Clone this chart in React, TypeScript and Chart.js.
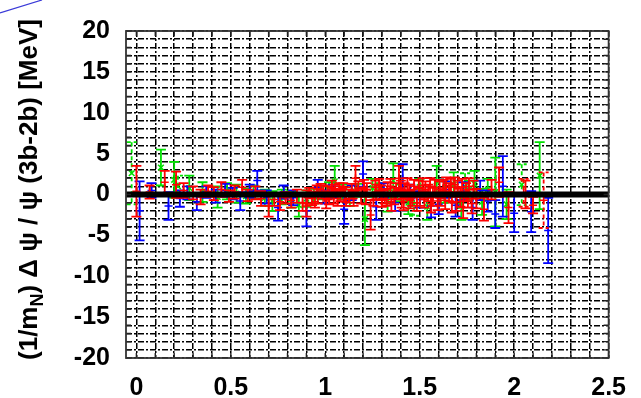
import { useEffect, useRef } from 'react';
import { Chart, registerables } from 'chart.js';
Chart.register(...registerables);

const xMin = -0.055;
const xMax = 2.5;
const yMin = -20;
const yMax = 20;
const xLabelTicks = [0, 0.5, 1, 1.5, 2, 2.5];
const yLabelTicks = [-20, -15, -10, -5, 0, 5, 10, 15, 20];

const greenX = [0.13,0.2,0.28,0.35,0.43,0.48,0.53,0.58,0.62,0.68,0.72,0.77,0.82,0.86,0.9,0.94,0.98,1.02,1.05,1.09,1.13,1.17,1.21,1.25,1.29,1.33,1.36,1.4,1.44,1.5,1.54,1.59,1.63,1.68,1.72,1.76,1.79,1.83,1.86,1.9,1.96,2.135];
const greenY = [3.3,1.8,0.8,0.3,-0.3,0.4,0.1,-0.2,0.3,-0.4,-0.8,-0.3,-0.6,-1.3,-0.5,-0.2,0.2,0.5,1.6,0.3,-0.4,0.5,-3.0,0.8,0.4,-0.8,1.7,0.2,-1.0,0.9,-1.5,1.6,0.3,1.2,-1.4,0.5,1.3,-0.9,0.6,0.3,-1.2,2.3];
const greenErr = [2.2,2.2,1.5,1.2,1.3,1.0,1.1,0.9,0.8,1.0,1.2,0.9,1.0,1.4,1.0,0.9,0.8,1.0,1.9,0.9,1.0,0.8,3.2,1.1,1.0,1.3,2.1,1.0,1.4,1.0,1.6,1.9,1.3,1.5,1.7,1.2,1.6,1.6,1.3,4.2,1.8,4.1];

const greenDashX = [-0.025, 0.22, 1.47, 1.74, 2.04];
const greenDashY = [2.6, 1.0, -1.2, 1.0, 1.2];
const greenDashErr = [3.8, 1.3, 1.4, 1.6, 2.5];

const blueX = [0.017,0.08,0.17,0.23,0.27,0.32,0.37,0.42,0.47,0.51,0.55,0.6,0.64,0.69,0.75,0.78,0.83,0.9,0.96,1.0,1.04,1.1,1.14,1.2,1.27,1.31,1.37,1.41,1.45,1.5,1.56,1.6,1.64,1.69,1.73,1.78,1.82,1.86,1.9,1.94,2.0,2.09,2.18];
const blueY = [-2.0,0.5,-1.4,-0.5,0.2,-0.9,0.3,-0.2,0.5,0.1,-0.8,0.4,1.7,-0.3,-1.6,0.3,-0.4,-2.0,0.9,-0.3,0.4,-1.8,0.2,2.5,-1.5,0.5,-1.0,2.0,0.4,-0.6,-1.4,-1.2,0.6,-1.3,0.4,-1.6,0.5,-0.8,-2.4,1.0,-2.3,-2.1,-4.4];
const blueErr = [3.6,0.9,1.7,1.0,0.8,1.0,0.7,0.8,0.8,0.7,1.1,0.8,1.2,0.8,1.6,0.8,0.9,1.9,0.9,0.8,0.8,1.8,0.9,1.55,1.6,0.9,1.0,1.7,0.8,1.0,1.4,1.2,1.0,1.4,1.1,1.5,1.2,1.3,1.7,3.7,2.3,2.5,4.0];

const redX = [0.0,0.07,0.15,0.21,0.25,0.3,0.34,0.38,0.41,0.45,
  0.49,0.52,0.56,0.59,0.63,0.66,0.7,0.73,0.76,0.79,
  0.82,0.85,0.88,0.9,0.915,0.93,0.945,0.96,0.975,0.99,
  1.005,1.02,1.035,1.05,1.065,1.08,1.095,1.11,1.125,1.14,
  1.16,1.19,1.205,1.22,1.24,1.255,1.27,1.285,1.3,1.315,
  1.33,1.35,1.375,1.39,1.405,1.42,1.435,1.45,1.47,1.485,
  1.5,1.515,1.53,1.545,1.56,1.58,1.595,1.61,1.625,1.64,
  1.655,1.67,1.685,1.7,1.715,1.73,1.745,1.76,1.775,1.8,
  1.84,1.88,1.92,1.97,2.06,2.1];
const redY = [0.4,0.3,1.5,1.2,0.5,0.2,-0.3,0.4,0.1,0.6,
  -0.2,0.3,0.9,-0.1,0.2,-0.5,-1.4,-0.6,-0.9,-0.4,
  -0.7,-0.2,-1.0,-1.4,0.2,-0.5,-0.9,-0.2,0.6,0.3,
  -0.8,-0.4,0.9,0.5,-0.5,0.1,0.7,-0.6,-0.2,0.4,
  2.0,-0.2,0.9,0.6,-2.5,-0.6,0.3,1.1,-0.5,-0.2,
  0.7,-0.9,0.4,2.0,-0.5,0.5,1.2,-0.7,1.0,-1.0,
  -0.3,1.1,0.6,0.2,-1.1,0.9,-0.8,-0.4,0.8,1.1,
  0.3,-1.0,1.2,0.7,-0.3,-1.6,0.3,1.0,-1.1,-0.5,
  -1.8,0.6,1.5,-1.6,0.0,-1.3];
const redErr = [3.1,0.8,1.4,1.6,0.9,0.8,0.9,0.7,0.8,0.9,
  0.7,0.8,0.9,0.7,0.8,0.9,1.3,0.8,1.0,0.7,
  0.9,0.8,1.0,1.3,0.6,0.8,0.7,0.9,0.7,0.8,
  0.9,0.8,0.8,0.7,0.9,0.9,0.7,0.8,0.8,0.9,
  1.5,0.9,0.9,0.8,1.8,0.8,0.9,0.8,1.0,0.9,
  0.8,1.1,1.0,1.5,1.1,0.9,0.8,1.0,0.8,1.0,
  1.1,0.9,1.0,1.0,1.1,0.9,1.1,1.0,1.0,1.0,
  1.1,1.2,0.9,1.0,1.2,1.3,1.1,1.0,1.2,1.2,
  1.4,1.2,1.8,1.9,1.7,1.0];

const red2X = [0.905,0.955,1.0125,1.045,1.075,1.105,1.15,1.175,1.215,1.265,
  1.295,1.325,1.345,1.365,1.4,1.415,1.445,1.46,1.495,1.525,
  1.555,1.57,1.605,1.635,1.665,1.695,1.725,1.755,1.785];
const red2Y = [-0.3,0.4,0.2,-0.2,0.6,0.0,-0.5,0.8,-0.3,0.9,
  0.2,-0.6,1.0,-0.2,0.8,-0.9,0.3,-0.4,0.8,-0.6,
  1.0,-0.3,0.6,-0.7,0.9,-0.9,0.9,-0.5,0.6];
const red2Err = [0.8,0.7,0.8,0.9,0.8,0.9,0.9,0.8,0.9,0.8,
  0.9,0.8,0.9,1.0,0.9,1.0,0.9,1.0,0.9,1.0,
  1.0,1.1,1.0,1.1,1.0,1.1,1.0,1.1,1.1];

const redDashX = [2.05, 2.156];
const redDashY = [0.2, -0.7];
const redDashErr = [1.7, 3.4];

const zeroLineX = [xMin, xMax];
const zeroLineY = [0, 0];

const yTitleParts = [
  { text: '(1/m', sub: false },
  { text: 'N', sub: true },
  { text: ') \u0394 \u03c8 / \u03c8 (3b-2b) [MeV]', sub: false },
];

const FONT = '"Liberation Sans", Arial, Helvetica, sans-serif';

const pts = (xs: number[], ys: number[]) => xs.map((x, i) => ({ x, y: ys[i] }));

const errorBarPlugin = {
  id: 'errorBars',
  afterDatasetDraw(chart: any, args: any) {
    const ds = chart.data.datasets[args.index];
    if (!ds.errors) return;
    const { ctx, scales } = chart;
    const xs = scales.x, ys = scales.y;
    const area = chart.chartArea;
    ctx.save();
    ctx.beginPath();
    ctx.rect(area.left, area.top, area.right - area.left, area.bottom - area.top);
    ctx.clip();
    ctx.strokeStyle = ds.borderColor;
    ctx.lineWidth = 1.8;
    ctx.setLineDash(ds.errorDash || []);
    ds.data.forEach((p: any, i: number) => {
      const e = ds.errors[i];
      const px = xs.getPixelForValue(p.x);
      const top = ys.getPixelForValue(p.y + e);
      const bot = ys.getPixelForValue(p.y - e);
      ctx.beginPath();
      ctx.moveTo(px, top); ctx.lineTo(px, bot);
      ctx.moveTo(px - 5, top); ctx.lineTo(px + 5, top);
      ctx.moveTo(px - 5, bot); ctx.lineTo(px + 5, bot);
      ctx.stroke();
    });
    ctx.restore();
  },
};

const framePlugin = {
  id: 'frame',
  afterDraw(chart: any) {
    const { ctx, chartArea: a, scales } = chart;
    ctx.save();
    ctx.strokeStyle = '#222';
    ctx.lineWidth = 1.4;
    ctx.setLineDash([]);
    ctx.beginPath();
    scales.x.ticks.forEach((t: any) => {
      const px = scales.x.getPixelForValue(t.value);
      ctx.moveTo(px, a.bottom); ctx.lineTo(px, a.bottom - 5);
      ctx.moveTo(px, a.top); ctx.lineTo(px, a.top + 5);
    });
    scales.y.ticks.forEach((t: any) => {
      const py = scales.y.getPixelForValue(t.value);
      ctx.moveTo(a.left, py); ctx.lineTo(a.left + 5, py);
      ctx.moveTo(a.right, py); ctx.lineTo(a.right - 5, py);
    });
    ctx.stroke();
    ctx.strokeStyle = '#333';
    ctx.lineWidth = 1.8;
    ctx.strokeRect(a.left, a.top, a.right - a.left, a.bottom - a.top);

    // y-axis title with subscript
    const S = 26;
    const mainFont = `bold ${S}px ${FONT}`;
    const subFont = `bold ${Math.round(S * 0.7)}px ${FONT}`;
    const widths = yTitleParts.map((p) => {
      ctx.font = p.sub ? subFont : mainFont;
      return ctx.measureText(p.text).width;
    });
    const total = widths.reduce((s, w) => s + w, 0);
    const cy = (a.top + a.bottom) / 2 - 5;
    ctx.translate(30, cy);
    ctx.rotate(-Math.PI / 2);
    ctx.fillStyle = '#000';
    ctx.textBaseline = 'middle';
    ctx.textAlign = 'left';
    let x = -total / 2;
    yTitleParts.forEach((p, i) => {
      ctx.font = p.sub ? subFont : mainFont;
      ctx.fillText(p.text, x, p.sub ? S * 0.3 : 0);
      x += widths[i];
    });
    ctx.restore();
  },
};

export default function App() {
  const ref = useRef<HTMLCanvasElement>(null);
  useEffect(() => {
    if (!ref.current) return;
    const mk = (xs: number[], ys: number[], errs: number[], color: string, style: string, order: number, dash?: number[]) => ({
      type: 'scatter' as const,
      data: pts(xs, ys),
      errors: errs,
      errorDash: dash,
      borderColor: color,
      backgroundColor: color,
      pointStyle: style,
      pointRadius: 4,
      pointBorderWidth: 1.5,
      showLine: false,
      order,
    });
    const gridTick = { color: '#000', lineWidth: 1.5, drawTicks: false };
    const chart = new Chart(ref.current, {
      type: 'scatter',
      data: {
        datasets: [
          {
            type: 'line',
            data: pts(zeroLineX, zeroLineY),
            borderColor: '#000',
            borderWidth: 6,
            pointRadius: 0,
            order: 0,
          } as any,
          mk(redX, redY, redErr, '#ff0000', 'cross', 1),
          mk(red2X, red2Y, red2Err, '#ff0000', 'cross', 2),
          mk(redDashX, redDashY, redDashErr, '#ff0000', 'cross', 3, [4, 3]),
          mk(blueX, blueY, blueErr, '#0000ff', 'cross', 4),
          mk(greenX, greenY, greenErr, '#00e000', 'crossRot', 5),
          mk(greenDashX, greenDashY, greenDashErr, '#00e000', 'crossRot', 6, [4, 3]),
        ] as any,
      },
      options: {
        animation: false,
        responsive: false,
        events: [],
        layout: { padding: { top: 15, right: 25, left: 0, bottom: 0 } },
        plugins: { legend: { display: false }, tooltip: { enabled: false } },
        scales: {
          x: {
            type: 'linear',
            min: xMin,
            max: xMax,
            afterBuildTicks: (scale: any) => {
              const t = [];
              for (let i = 0; i <= 25; i++) t.push({ value: i / 10 });
              scale.ticks = t;
            },
            afterFit: (scale: any) => { scale.height = 40; },
            grid: gridTick,
            border: { display: false, dash: [6, 2, 2, 2] },
            ticks: {
              autoSkip: false,
              maxRotation: 0,
              padding: 15,
              color: '#000',
              font: { family: FONT, size: 25, weight: 'bold' },
              callback: (v: any) => {
                const m = xLabelTicks.find((t) => Math.abs(t - v) < 1e-6);
                return m === undefined ? '' : String(m);
              },
            },
          },
          y: {
            type: 'linear',
            min: yMin,
            max: yMax,
            afterBuildTicks: (scale: any) => {
              const t = [];
              for (let i = yMin; i <= yMax; i++) t.push({ value: i });
              scale.ticks = t;
            },
            afterFit: (scale: any) => { scale.width = 126; },
            grid: gridTick,
            border: { display: false, dash: [6, 2, 2, 2] },
            ticks: {
              autoSkip: false,
              padding: 16,
              color: '#000',
              font: { family: FONT, size: 25, weight: 'bold' },
              callback: (v: any) => {
                const m = yLabelTicks.find((t) => Math.abs(t - v) < 1e-6);
                return m === undefined ? '' : String(m);
              },
            },
          },
        },
      } as any,
      plugins: [errorBarPlugin, framePlugin],
    });
    return () => chart.destroy();
  }, []);
  return (
    <div style={{ position: 'fixed', left: 0, top: 0, width: 641, height: 398, background: '#fff' }}>
      <canvas ref={ref} width={641} height={398} style={{ display: 'block' }} />
      <svg width={641} height={398} style={{ position: 'absolute', left: 0, top: 0, pointerEvents: 'none' }}>
        <line x1={0} y1={13} x2={42} y2={0} stroke="#3a3ad8" strokeWidth={1.3} />
      </svg>
    </div>
  );
}
